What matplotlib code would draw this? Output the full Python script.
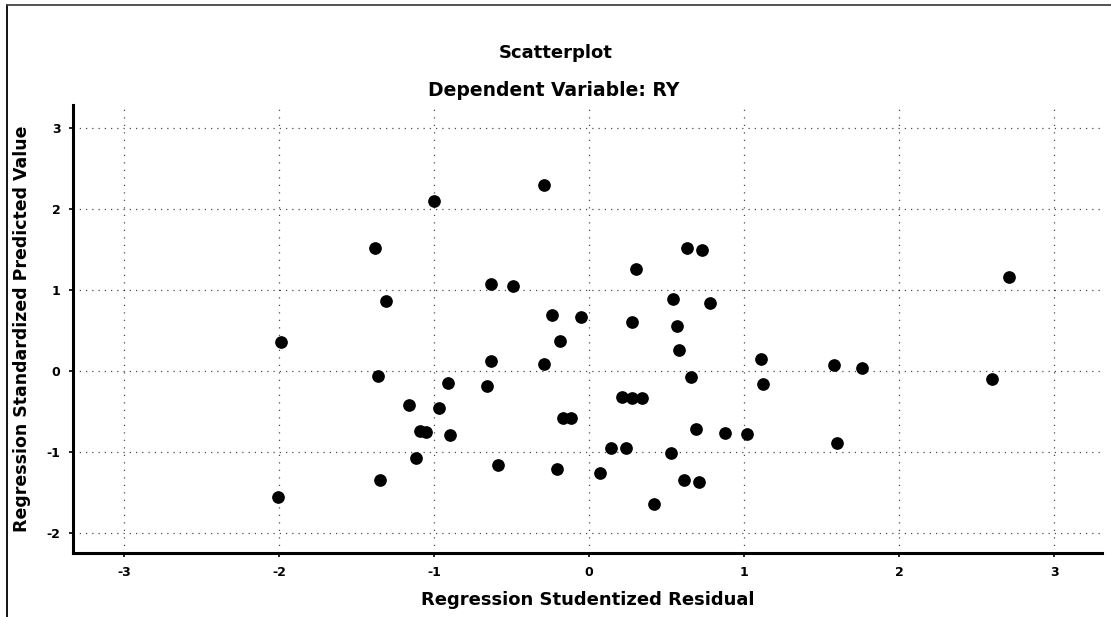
import matplotlib
matplotlib.use("Agg")
import matplotlib.pyplot as plt
from matplotlib.lines import Line2D

plt.rcParams['font.family'] = ['DejaVu Sans']
plt.rcParams['font.weight'] = 'bold'
plt.rcParams['axes.unicode_minus'] = False

# studentized residuals (x) and standardized predicted values (y)
resid = [-0.29, -1.00, -1.38, 0.63, 0.73, 0.30, 2.71, -0.63, -0.49, -1.31,
         0.54, 0.78, -0.24, -0.05, 0.28, 0.57, -0.19, -1.99, 0.58, -0.63,
         1.11, -0.29, 1.58, 1.76, -1.36, 0.66, 2.60, -0.91, 1.12, -0.66,
         0.21, 0.28, 0.34, -1.16, -0.97, -0.17, -0.12, 0.69, -1.09, -1.05,
         0.88, 1.02, -0.90, 1.60, 0.14, 0.24, 0.53, -1.12, -0.59, -0.21,
         0.07, -1.35, 0.61, 0.71, -2.01, 0.42]
pred = [2.29, 2.10, 1.51, 1.51, 1.49, 1.25, 1.15, 1.07, 1.05, 0.86,
        0.88, 0.84, 0.69, 0.66, 0.60, 0.55, 0.37, 0.35, 0.25, 0.12,
        0.15, 0.08, 0.07, 0.03, -0.06, -0.08, -0.10, -0.15, -0.17, -0.19,
        -0.32, -0.34, -0.34, -0.42, -0.46, -0.58, -0.59, -0.72, -0.75, -0.76,
        -0.77, -0.78, -0.79, -0.89, -0.95, -0.96, -1.01, -1.08, -1.16, -1.21,
        -1.26, -1.35, -1.35, -1.37, -1.56, -1.64]

xticks = [-3, -2, -1, 0, 1, 2, 3]
yticks = [-2, -1, 0, 1, 2, 3]

fig = plt.figure(figsize=(11.11, 6.17), dpi=100)
ax = fig.add_axes([0.0657, 0.1037, 0.9263, 0.7263])

# sparse dotted grid like the scanned SPSS output
for v in xticks:
    ax.axvline(v, color='black', lw=0.9, ls=(0, (1, 5)), alpha=0.7, zorder=1)
for v in yticks:
    ax.axhline(v, color='black', lw=0.9, ls=(0, (1, 4)), alpha=0.7, zorder=1)

ax.scatter(resid, pred, s=66, color='black', zorder=3)

ax.set_xlim(-3.33, 3.31)
ax.set_ylim(-2.25, 3.28)
ax.set_xticks(xticks)
ax.set_yticks(yticks)
ax.tick_params(length=3, width=1.2, labelsize=9, pad=6)
for lab in ax.get_xticklabels() + ax.get_yticklabels():
    lab.set_fontweight('bold')

ax.spines['top'].set_visible(False)
ax.spines['right'].set_visible(False)
ax.spines['left'].set_linewidth(2.2)
ax.spines['bottom'].set_linewidth(2.2)

ax.set_xlabel('Regression Studentized Residual', fontsize=13, fontweight='bold', labelpad=9)
ax.set_ylabel('Regression Standardized Predicted Value', fontsize=12.5, fontweight='bold', labelpad=11)

fig.text(556 / 1111, 1 - 53 / 617, 'Scatterplot', ha='center', va='center',
         fontsize=13, fontweight='bold')
fig.text(554 / 1111, 1 - 90 / 617, 'Dependent Variable: RY', ha='center', va='center',
         fontsize=13.5, fontweight='bold')

# page border on left and top
fig.add_artist(Line2D([7 / 1111, 7 / 1111], [0, 1 - 5 / 617], color='black', lw=1.3))
fig.add_artist(Line2D([7 / 1111, 1], [1 - 5 / 617, 1 - 5 / 617], color='#444444', lw=1.3))

fig.savefig('out.png', dpi=100)
